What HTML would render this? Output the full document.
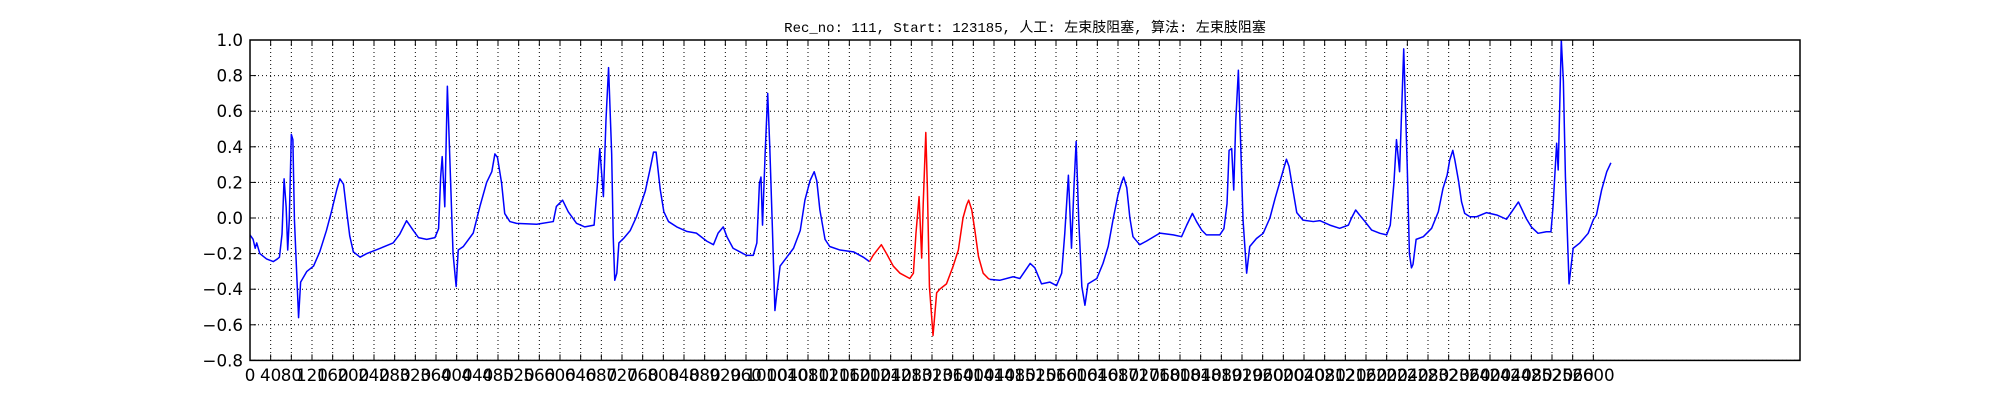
<!DOCTYPE html>
<html><head><meta charset="utf-8"><style>
html,body{margin:0;padding:0;background:#fff;}
svg{display:block;}
</style></head><body>
<svg id="chart" width="2000" height="400" xmlns="http://www.w3.org/2000/svg">
<rect x="0" y="0" width="2000" height="400" fill="#fff"/>
<text x="1025" y="32" text-anchor="middle" font-family="'Liberation Mono','Noto Sans CJK SC',monospace" font-size="14" fill="#000">Rec_no: 111, Start: 123185, 人工: 左束肢阻塞, 算法: 左束肢阻塞</text>
<g id="grid"></g>
<g id="series"></g>
<g id="axes"></g>
</svg>
<script>
const sampleIdx = [0,6,10,13,19,32,45,53,57,62,66,70,73,76,80,83,86,94,98,110,123,135,148,158,168,174,181,187,193,200,213,226,252,277,290,303,316,326,342,358,365,369,372,377,382,393,399,403,413,432,445,458,468,474,479,487,493,503,516,555,587,593,605,616,632,648,666,672,677,684,689,694,700,703,706,710,714,723,736,748,758,765,774,781,786,794,801,810,826,845,864,884,897,906,916,923,935,948,961,974,981,986,989,992,997,1002,1006,1011,1016,1019,1026,1039,1052,1065,1074,1084,1092,1097,1103,1113,1122,1142,1168,1187,1199,1206,1222,1232,1245,1258,1277,1284,1289,1295,1300,1303,1308,1311,1315,1322,1329,1335,1348,1361,1371,1380,1387,1391,1397,1403,1410,1419,1429,1432,1451,1477,1490,1510,1519,1532,1548,1561,1571,1577,1584,1590,1595,1599,1604,1610,1616,1622,1639,1651,1661,1671,1680,1687,1691,1697,1703,1709,1722,1735,1761,1787,1803,1813,1824,1832,1842,1851,1877,1885,1891,1895,1900,1904,1908,1913,1917,1922,1929,1935,1948,1961,1974,1984,1993,2000,2006,2011,2019,2026,2038,2058,2071,2090,2109,2126,2132,2140,2148,2158,2171,2187,2200,2207,2214,2219,2225,2233,2240,2244,2248,2251,2257,2271,2287,2300,2309,2317,2322,2328,2332,2339,2345,2351,2361,2374,2393,2413,2432,2442,2455,2461,2470,2480,2493,2509,2518,2522,2529,2532,2538,2542,2546,2553,2561,2574,2590,2600,2606,2616,2626,2634];
const ecgValues = [-0.095,-0.12,-0.17,-0.14,-0.2,-0.23,-0.245,-0.23,-0.22,-0.09,0.22,0.06,-0.18,-0.01,0.47,0.44,-0.01,-0.56,-0.36,-0.3,-0.27,-0.19,-0.07,0.04,0.16,0.22,0.19,0.04,-0.1,-0.19,-0.22,-0.2,-0.17,-0.14,-0.09,-0.015,-0.07,-0.11,-0.12,-0.11,-0.06,0.23,0.345,0.063,0.74,-0.2,-0.385,-0.18,-0.16,-0.085,0.065,0.2,0.26,0.36,0.34,0.195,0.025,-0.02,-0.03,-0.035,-0.02,0.065,0.1,0.035,-0.03,-0.05,-0.04,0.175,0.39,0.12,0.55,0.845,0.36,-0.105,-0.35,-0.31,-0.14,-0.115,-0.07,0.007,0.09,0.15,0.27,0.37,0.37,0.16,0.035,-0.02,-0.05,-0.075,-0.085,-0.13,-0.15,-0.085,-0.05,-0.105,-0.17,-0.19,-0.21,-0.21,-0.14,0.195,0.23,-0.04,0.36,0.7,0.4,-0.05,-0.52,-0.44,-0.27,-0.22,-0.17,-0.07,0.1,0.21,0.26,0.21,0.045,-0.12,-0.16,-0.18,-0.19,-0.22,-0.245,-0.21,-0.15,-0.2,-0.27,-0.31,-0.34,-0.31,-0.085,0.12,-0.225,0.08,0.48,0.175,-0.385,-0.66,-0.42,-0.4,-0.37,-0.27,-0.18,0.0,0.073,0.1,0.045,-0.07,-0.217,-0.31,-0.34,-0.345,-0.35,-0.33,-0.34,-0.255,-0.28,-0.37,-0.36,-0.38,-0.31,-0.086,0.24,-0.17,0.19,0.43,-0.01,-0.385,-0.49,-0.37,-0.34,-0.255,-0.16,0.0,0.13,0.2,0.23,0.17,0.0,-0.105,-0.15,-0.13,-0.085,-0.095,-0.105,-0.04,0.026,-0.02,-0.068,-0.095,-0.095,-0.06,0.08,0.38,0.39,0.157,0.55,0.83,0.456,-0.01,-0.31,-0.16,-0.115,-0.086,0.0,0.11,0.2,0.27,0.33,0.29,0.15,0.03,-0.012,-0.02,-0.015,-0.04,-0.058,-0.04,0.0,0.045,0.015,-0.02,-0.068,-0.086,-0.095,-0.04,0.195,0.44,0.26,0.95,0.27,-0.2,-0.28,-0.26,-0.12,-0.105,-0.058,0.035,0.166,0.24,0.325,0.38,0.325,0.21,0.09,0.026,0.007,0.007,0.03,0.017,-0.007,0.035,0.09,0.054,-0.002,-0.05,-0.086,-0.077,-0.077,0.064,0.42,0.27,1.0,0.77,0.23,-0.37,-0.17,-0.14,-0.086,-0.01,0.017,0.157,0.26,0.31];
const redRange = [1199, 1432];
const xTickLabels = [];
for (let t = 0; t <= 2600; t += 40) xTickLabels.push(t);
const yTickLabels = [-0.8,-0.6,-0.4,-0.2,0.0,0.2,0.4,0.6,0.8,1.0];
const xDomain = [0, 3000];
const yDomain = [-0.8, 1.0];

const L = 250, R = 1800, T = 40, B = 360.4;
const NS = 'http://www.w3.org/2000/svg';
function xs(v){ return L + (v - xDomain[0]) / (xDomain[1] - xDomain[0]) * (R - L); }
function ys(v){ return B - (v - yDomain[0]) / (yDomain[1] - yDomain[0]) * (B - T); }
function mk(tag, attrs, parent){
  const e = document.createElementNS(NS, tag);
  for (const k in attrs) e.setAttribute(k, attrs[k]);
  parent.appendChild(e); return e;
}
const grid = document.getElementById('grid');
const axes = document.getElementById('axes');
const series = document.getElementById('series');
const FONT = "'DejaVu Sans','Liberation Sans',sans-serif";

xTickLabels.forEach(t => {
  const x = xs(t);
  const g = mk('line', {x1:x, x2:x, y1:T, y2:B, stroke:'#000', 'stroke-width':1, 'stroke-dasharray':'1,3'}, grid);
  
  
  const tb = mk('line', {x1:x, x2:x, y1:B, y2:B-6, stroke:'#000', 'stroke-width':1}, axes);
  
  
  const tt = mk('line', {x1:x, x2:x, y1:T, y2:T+6, stroke:'#000', 'stroke-width':1}, axes);
  
  
  const lb = mk('text', {x:x, y:381, 'text-anchor':'middle', 'font-family':FONT, 'font-size':16.7, fill:'#000'}, axes);
  lb.textContent = String(t);
  
  
});
yTickLabels.forEach(v => {
  const y = ys(v);
  const g = mk('line', {x1:L, x2:R, y1:y, y2:y, stroke:'#000', 'stroke-width':1, 'stroke-dasharray':'1,3'}, grid);
  
  
  const tl = mk('line', {x1:L, x2:L+6, y1:y, y2:y, stroke:'#000', 'stroke-width':1}, axes);
  
  
  const tr = mk('line', {x1:R, x2:R-6, y1:y, y2:y, stroke:'#000', 'stroke-width':1}, axes);
  
  
  const lb = mk('text', {x:243, y:y+6, 'text-anchor':'end', 'font-family':FONT, 'font-size':16.7, fill:'#000'}, axes);
  lb.textContent = (v < 0 ? '\u2212' : '') + Math.abs(v).toFixed(1);
  
  
});
const frame = mk('rect', {x:L, y:T, width:R-L, height:B-T, fill:'none', stroke:'#000', 'stroke-width':1.5}, axes);



mk('clipPath', {id:'clip'}, series);
mk('rect', {x:L, y:T, width:R-L, height:B-T}, document.getElementById('clip'));

function pathFor(pred){
  let d = '';
  for (let i = 0; i < sampleIdx.length; i++) {
    if (!pred(sampleIdx[i])) continue;
    d += (d ? 'L' : 'M') + xs(sampleIdx[i]).toFixed(2) + ',' + ys(ecgValues[i]).toFixed(2);
  }
  return d;
}
const b1 = mk('path', {d:pathFor(s => s <= redRange[0]), fill:'none', stroke:'#0000ff', 'stroke-width':1.5, 'stroke-linejoin':'round', 'clip-path':'url(#clip)'}, series);


const rd = mk('path', {d:pathFor(s => s >= redRange[0] && s <= redRange[1]), fill:'none', stroke:'#ff0000', 'stroke-width':1.5, 'stroke-linejoin':'round', 'clip-path':'url(#clip)'}, series);


const b2 = mk('path', {d:pathFor(s => s >= redRange[1]), fill:'none', stroke:'#0000ff', 'stroke-width':1.5, 'stroke-linejoin':'round', 'clip-path':'url(#clip)'}, series);


</script>
</body></html>
